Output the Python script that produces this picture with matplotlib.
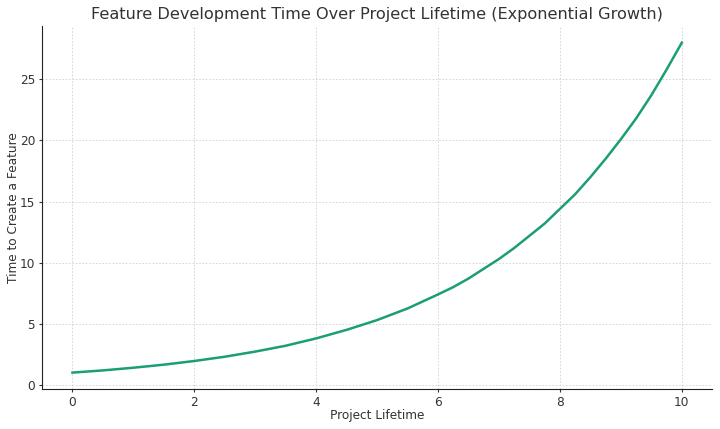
import matplotlib as mpl
mpl.use("Agg")
import matplotlib.pyplot as plt

# values
lifetime = [0, 0.5, 1, 1.5, 2, 2.5, 3, 3.5, 4, 4.5, 5, 5.5, 6, 6.25, 6.5, 6.75, 7,
            7.25, 7.5, 7.75, 8, 8.25, 8.5, 8.75, 9, 9.25, 9.5, 9.75, 10]
feature_time = [1.0, 1.18, 1.40, 1.65, 1.95, 2.30, 2.72, 3.20, 3.80, 4.50, 5.30,
                6.25, 7.40, 8.0, 8.70, 9.5, 10.3, 11.2, 12.2, 13.2, 14.4, 15.6,
                17.0, 18.5, 20.1, 21.8, 23.7, 25.8, 28.0]

TEXT = "#333333"

fig = plt.figure(figsize=(7.2, 4.29), dpi=100)
ax = fig.add_axes([0.0583, 0.093, 0.931, 0.846])

ax.plot(lifetime, feature_time, color="#1b9e77", linewidth=1.8)

ax.set_title("Feature Development Time Over Project Lifetime (Exponential Growth)",
             fontsize=11.6, color=TEXT, pad=5)
ax.set_xlabel("Project Lifetime", fontsize=8.7, color=TEXT, labelpad=0)
ax.set_ylabel("Time to Create a Feature", fontsize=8.7, color=TEXT, labelpad=0)
ax.tick_params(labelsize=8.7, colors=TEXT, length=2.5, pad=2.5)
ax.set_xticks([0, 2, 4, 6, 8, 10])
ax.set_yticks([0, 5, 10, 15, 20, 25])

ax.grid(True, linestyle=(0, (2, 2)), linewidth=0.6, color="#d0d0d0")
ax.spines["top"].set_visible(False)
ax.spines["right"].set_visible(False)
ax.spines["left"].set_color("#222222")
ax.spines["bottom"].set_color("#222222")

fig.savefig("out.png", dpi=100)
